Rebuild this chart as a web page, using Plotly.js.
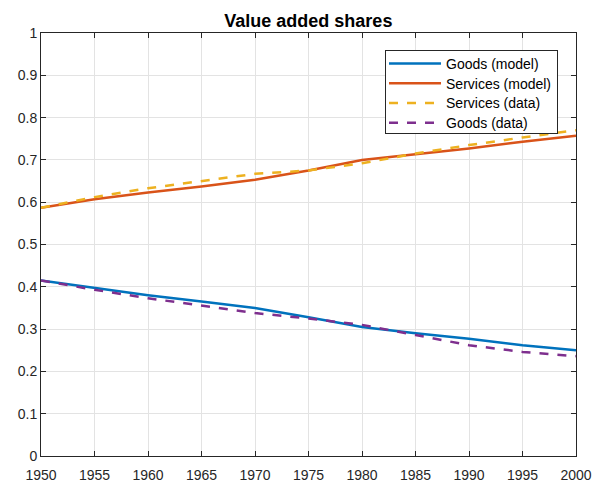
<!DOCTYPE html>
<html>
<head>
<meta charset="utf-8">
<script src="https://cdn.plot.ly/plotly-3.0.1.min.js"></script>
<style>html,body{margin:0;padding:0;background:#fff;}#chart{width:593px;height:484px;}</style>
</head>
<body>
<div id="chart"></div>
<script>
const years = [1950, 1955, 1960, 1965, 1970, 1975, 1980, 1985, 1990, 1995, 2000];
const goodsModel = [0.415, 0.397, 0.380, 0.365, 0.350, 0.328, 0.305, 0.290, 0.277, 0.262, 0.250];
const servicesModel = [0.587, 0.607, 0.623, 0.637, 0.653, 0.675, 0.700, 0.713, 0.727, 0.743, 0.757];
const servicesData = [0.587, 0.612, 0.633, 0.650, 0.667, 0.675, 0.692, 0.715, 0.735, 0.753, 0.770];
const goodsData = [0.415, 0.393, 0.373, 0.355, 0.338, 0.325, 0.310, 0.286, 0.262, 0.246, 0.236];
const xTicks = [1950, 1955, 1960, 1965, 1970, 1975, 1980, 1985, 1990, 1995, 2000];
const yTicks = [0, 0.1, 0.2, 0.3, 0.4, 0.5, 0.6, 0.7, 0.8, 0.9, 1];
const yTickText = ['0', '0.1', '0.2', '0.3', '0.4', '0.5', '0.6', '0.7', '0.8', '0.9', '1'];

const traces = [
  {x: years, y: goodsModel, name: 'Goods (model)', mode: 'lines', line: {color: '#0072BD', width: 2.5}},
  {x: years, y: servicesModel, name: 'Services (model)', mode: 'lines', line: {color: '#D95319', width: 2.5}},
  {x: years, y: servicesData, name: 'Services (data)', mode: 'lines', line: {color: '#EDB120', width: 2.5, dash: 'dash'}},
  {x: years, y: goodsData, name: 'Goods (data)', mode: 'lines', line: {color: '#7E2F8E', width: 2.5, dash: 'dash'}}
];

const FONT = 'Liberation Sans, Arial, sans-serif';
const axisCommon = {
  showline: true, mirror: 'ticks', linecolor: '#262626', linewidth: 1,
  ticks: 'inside', ticklen: 5, tickcolor: '#262626',
  showgrid: true, gridcolor: '#e3e3e3', gridwidth: 1, zeroline: false,
  tickfont: {family: FONT, size: 14, color: '#262626'}
};

const layout = {
  width: 593, height: 484,
  margin: {l: 41, r: 17, t: 33, b: 28},
  paper_bgcolor: '#ffffff', plot_bgcolor: '#ffffff',
  title: {text: '<b>Value added shares</b>', x: 0.52, xanchor: 'center', y: 0.958, yanchor: 'middle',
          font: {family: FONT, size: 18, color: '#000'}},
  xaxis: Object.assign({}, axisCommon, {range: [1950, 2000], tickvals: xTicks, ticktext: xTicks.map(String), ticklabelstandoff: 6}),
  yaxis: Object.assign({}, axisCommon, {range: [0, 1], tickvals: yTicks, ticktext: yTickText}),
  showlegend: true,
  legend: {x: 0.643, y: 0.9607, xanchor: 'left', yanchor: 'top', bgcolor: '#ffffff',
           bordercolor: '#262626', borderwidth: 1, tracegroupgap: 0, itemwidth: 50,
           font: {family: FONT, size: 14, color: '#000'}}
};

Plotly.newPlot('chart', traces, layout, {displayModeBar: false, staticPlot: true}).then(function (gd) {
  const leg = gd.querySelector('.legend');
  if (!leg) return;
  leg.querySelectorAll('.legendlines path').forEach(function (p) {
    p.setAttribute('d', 'M3,0h52');
  });
  // tighten row spacing to match the reference legend box
  const items = leg.querySelectorAll('g.traces');
  items.forEach(function (g, i) {
    const t = g.getAttribute('transform') || '';
    const m = t.match(/translate\(\s*([-\d.]+)[ ,]+([-\d.]+)\s*\)/);
    const x = m ? parseFloat(m[1]) : 1;
    g.setAttribute('transform', 'translate(' + x + ',' + (14 + i * 19.7) + ')');
  });
  const bg = leg.querySelector('rect.bg');
  if (bg) bg.setAttribute('height', 83);
});
</script>
</body>
</html>
